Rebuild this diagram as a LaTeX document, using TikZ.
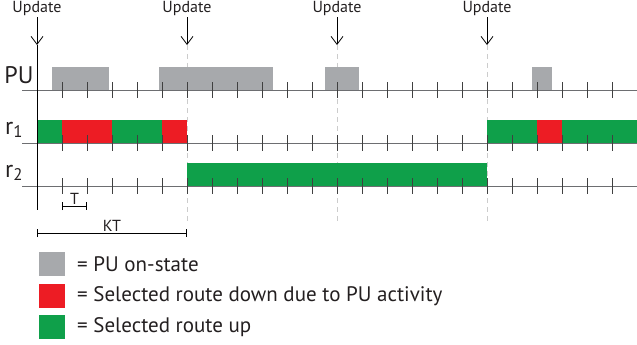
\documentclass[tikz,border=0pt]{standalone}
\usepackage{fontspec}
\setmainfont{PT Sans}
\usepackage{xcolor}
\usetikzlibrary{arrows.meta, positioning}
\definecolor{puGray}{HTML}{A7A9AC}
\definecolor{downRed}{HTML}{ED1C24}
\definecolor{upGreen}{HTML}{0FA04A}
\definecolor{axisGray}{HTML}{6D6E71}
\definecolor{txtDark}{HTML}{231F20}
\tikzset{
  timeaxis/.style={draw=axisGray, line width=1pt},
  slottick/.style={draw=black!75, line width=0.9pt},
  updatearrow/.style={-{Straight Barb[length=8pt,width=12pt]}, line width=0.8pt},
  updatelabel/.style={font=\fontsize{16}{18}\selectfont, text=txtDark, inner sep=1pt},
  updateguide/.style={draw=black!20, dash pattern=on 5pt off 4pt, line width=1pt},
  rowlabel/.style={font=\fontsize{24}{27}\selectfont, text=txtDark, inner sep=0pt},
  pubar/.style={fill=puGray},
  downbar/.style={fill=downRed},
  upbar/.style={fill=upGreen},
  legendbox/.style={minimum width=26pt, minimum height=24pt, inner sep=0pt},
  legendtext/.style={font=\fontsize{21}{24}\selectfont, text=txtDark, anchor=west, inner sep=0pt},
  spanbar/.style={{Bar[width=8pt]}-{Bar[width=8pt]}, line width=0.8pt},
}

\begin{document}
\begin{tikzpicture}[x=1pt, y=-1pt]
  \useasboundingbox (0,0) rectangle (637,345);

  % Dashed guides below each update
  \foreach \u in {187,337,487}
    \draw[updateguide] (\u,45) -- (\u,223);

  % PU on-state periods
  \foreach \a/\b in {52/109, 159/273, 325/359, 532/552}
    \fill[pubar] (\a,67) rectangle (\b,90);

  % Route r1
  \foreach \a/\b/\s in {37/62/upbar, 62/112/downbar, 112/162/upbar, 162/187/downbar,
                        487/537/upbar, 537/562/downbar, 562/637/upbar}
    \fill[\s] (\a,120) rectangle (\b,143);

  % Route r2
  \fill[upbar] (187,163) rectangle (487,186);

  % Time axes and slot ticks
  \foreach \y in {90,143,186} {
    \draw[timeaxis] (22,\y) -- (637,\y);
    \foreach \x in {62,87,...,612}
      \draw[slottick] (\x,\y-8) -- (\x,\y+8);
  }
  \draw[line width=0.9pt] (37,45) -- (37,210);

  % Update instants
  \foreach \u [count=\i] in {37,187,337,487} {
    \node[updatelabel] (upd\i) at (\u,9) {Update};
    \coordinate (tip\i) at (\u,45);
    \draw[updatearrow] (upd\i) -- (tip\i);
  }

  % Row labels
  \node[rowlabel] (puL) at (19,75) {PU};
  \node[rowlabel] (r1L) at (14,130) {r\textsubscript{1}};
  \node[rowlabel] (r2L) at (14,173) {r\textsubscript{2}};

  % Slot length and update period
  \coordinate (tA) at (62,206);
  \coordinate (tB) at (87,206);
  \draw[spanbar] (tA) -- node[updatelabel, above=0pt] (tL) {T} (tB);
  \coordinate (ktA) at (37,233);
  \coordinate (ktB) at (187,233);
  \draw[spanbar] (ktA) -- node[updatelabel, above=0pt] (ktL) {KT} (ktB);

  % Legend
  \node[legendbox, fill=puGray] (legPU) at (52,264) {};
  \node[legendtext] (legPUt) at (77,264) {= PU on-state};
  \node[legendbox, fill=downRed] (legDown) at (52,296) {};
  \node[legendtext] (legDownt) at (77,296) {= Selected route down due to PU activity};
  \node[legendbox, fill=upGreen] (legUp) at (52,327) {};
  \node[legendtext] (legUpt) at (77,327) {= Selected route up};
\end{tikzpicture}
\end{document}
